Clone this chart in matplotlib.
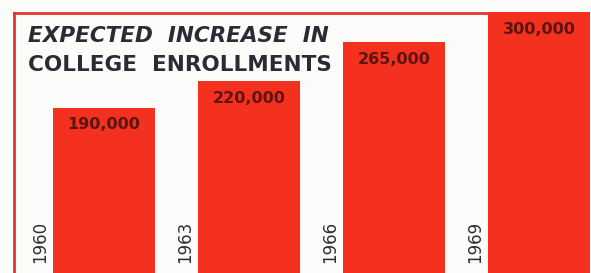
import matplotlib.pyplot as plt

# data
years = ['1960', '1963', '1966', '1969']
enrollments = [190000, 220000, 265000, 300000]
value_labels = ['190,000', '220,000', '265,000', '300,000']

bar_red = '#f4301f'
frame_red = '#e2352c'
bar_width = 0.70

fig = plt.figure(figsize=(5.91, 2.73), dpi=100, facecolor='#fbfbf9')
# axes: left and top spines make the red frame
ax = fig.add_axes([14 / 591, 0, 577 / 591, 260 / 273])
ax.set_facecolor('#fbfbf9')

x = range(len(years))
ax.bar(x, enrollments, width=bar_width, color=bar_red, clip_on=False, zorder=3)

ax.set_xlim(-0.621, 3.359)
ax.set_ylim(0, 298500)

for side in ['right', 'bottom']:
    ax.spines[side].set_visible(False)
for side in ['left', 'top']:
    ax.spines[side].set_color(frame_red)
    ax.spines[side].set_linewidth(2.0)
# frame top line stops where the last bar begins
ax.spines['top'].set_bounds(-0.621, len(years) - 1 - bar_width / 2)
ax.set_xticks([])
ax.set_yticks([])

# value labels inside the top of each bar
for i, (v, lab) in enumerate(zip(enrollments, value_labels)):
    ax.annotate(lab, (i, v), xytext=(0, -12.5), textcoords='offset points',
                ha='center', va='center', fontsize=11.5, fontweight='bold',
                color='#5a1512', zorder=4, annotation_clip=False)

# years written vertically to the left of each bar
for i, yr in enumerate(years):
    ax.annotate(yr, (i, 0), xytext=(-46, 7), textcoords='offset points',
                rotation=90, ha='center', va='bottom', fontsize=12,
                fontweight='medium', color='#2e2e34', zorder=4)

fig.text(28 / 591, 1 - 36 / 273, 'EXPECTED  INCREASE  IN', ha='left', va='center',
         fontsize=15.5, fontweight='bold', fontstyle='italic', color='#2b2b35')
fig.text(28 / 591, 1 - 65 / 273, 'COLLEGE  ENROLLMENTS', ha='left', va='center',
         fontsize=15.5, fontweight='bold', color='#2b2b35')

fig.savefig('out.png', dpi=100, facecolor=fig.get_facecolor())
